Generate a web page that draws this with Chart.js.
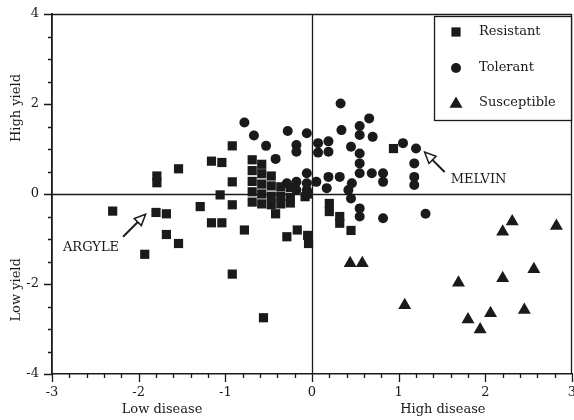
<!DOCTYPE html>
<html><head><meta charset="utf-8">
<script src="https://cdn.jsdelivr.net/npm/chart.js@4/dist/chart.umd.min.js"></script>
<style>html,body{margin:0;padding:0;background:#fff}canvas{display:block}</style>
</head><body>
<canvas id="c" width="574" height="420"></canvas>
<script>
// ---- data ----
const resistantX = [-2.30,-1.80,-1.68,-1.68,-1.54,-1.93,-1.29,-1.16,-1.04,-0.92,-0.78,-0.92,-0.56,-0.42,-0.29,-0.17,
  -1.79,-1.79,-1.54,-1.16,-1.04,-0.92,-0.92,-1.06,
  -0.69,-0.69,-0.69,-0.69,-0.69,-0.58,-0.58,-0.58,-0.58,-0.58,-0.47,-0.47,-0.47,-0.47,-0.36,-0.36,-0.36,-0.25,-0.25,-0.25,
  -0.08,-0.05,-0.04,-0.05,0.20,0.20,0.32,0.32,0.45,0.94];
const resistantY = [-0.38,-0.41,-0.44,-0.90,-1.10,-1.34,-0.28,-0.64,-0.64,-0.24,-0.80,-1.78,-2.75,-0.44,-0.95,-0.80,
  0.40,0.25,0.56,0.73,0.70,1.07,0.27,-0.02,
  0.76,0.52,0.28,0.05,-0.18,0.66,0.45,0.22,0.00,-0.22,0.40,0.18,-0.05,-0.24,0.16,-0.05,-0.22,0.14,-0.08,-0.20,
  -0.06,-0.92,-1.10,0.00,-0.21,-0.39,-0.50,-0.65,-0.81,1.01];
const tolerantX = [-0.78,-0.67,-0.53,-0.42,-0.28,-0.18,-0.18,-0.06,0.07,0.07,0.19,0.19,0.34,0.33,0.45,0.66,0.55,0.55,0.70,
  0.55,0.55,0.55,0.69,0.82,0.82,1.05,1.20,1.18,1.18,1.18,-0.06,-0.18,-0.29,0.05,0.19,0.32,0.46,0.17,-0.06,-0.18,
  0.45,0.55,0.55,0.82,1.31,-0.06,0.42];
const tolerantY = [1.59,1.30,1.07,0.78,1.40,1.09,0.94,1.35,1.13,0.92,1.17,0.94,1.42,2.01,1.05,1.68,1.51,1.31,1.27,
  0.90,0.68,0.46,0.46,0.46,0.27,1.13,1.01,0.68,0.38,0.20,0.46,0.27,0.24,0.27,0.38,0.38,0.24,0.13,0.09,0.09,
  -0.10,-0.32,-0.50,-0.54,-0.44,0.24,0.09];
const susceptibleX = [0.44,0.58,1.07,1.69,1.80,1.94,2.06,2.20,2.20,2.31,2.45,2.56,2.82];
const susceptibleY = [-1.54,-1.54,-2.47,-1.97,-2.79,-3.01,-2.65,-1.87,-0.84,-0.61,-2.58,-1.67,-0.71];
const seriesNames = ['Resistant','Tolerant','Susceptible'];
const xTickLabels = [-3,-2,-1,0,1,2,3];
const yTickLabels = [-4,-2,0,2,4];
const xTitles = [{text:'Low disease', x:-1.73}, {text:'High disease', x:1.51}];
const yTitles = [{text:'High yield', y:1.91}, {text:'Low yield', y:-2.13}];
const notes = [
  {text:'ARGYLE', tx:-2.55, ty:-1.20, align:'center', fromX:-2.18, fromY:-0.95, toX:-1.92, toY:-0.45},
  {text:'MELVIN', tx:1.60, ty:0.33, align:'left', fromX:1.53, fromY:0.49, toX:1.30, toY:0.93}
];

const INK = '#1a1a1a';
const FONT = '13px "DejaVu Serif"';
const pts = (xs, ys) => xs.map((x, i) => ({x, y: ys[i]}));
const near = (v, arr) => arr.some(a => Math.abs(a - v) < 1e-6);

function drawMarker(ctx, style, x, y) {
  ctx.fillStyle = INK;
  ctx.beginPath();
  if (style === 'rect') { ctx.rect(x - 4.6, y - 4.6, 9.2, 9.2); }
  else if (style === 'circle') { ctx.arc(x, y, 5, 0, Math.PI * 2); }
  else { const r = 7.5; ctx.moveTo(x, y - r); ctx.lineTo(x + r * 0.866, y + r * 0.5); ctx.lineTo(x - r * 0.866, y + r * 0.5); ctx.closePath(); }
  ctx.fill();
}

const decor = {
  id: 'decor',
  beforeDatasetsDraw(chart) {
    const {ctx, chartArea: a, scales: {x, y}} = chart;
    ctx.save();
    ctx.strokeStyle = INK; ctx.lineWidth = 1.3;
    ctx.beginPath();
    const x0 = Math.round(x.getPixelForValue(0)) + 0.5, y0 = Math.round(y.getPixelForValue(0)) + 0.5;
    ctx.moveTo(x0, a.top); ctx.lineTo(x0, a.bottom);
    ctx.moveTo(a.left, y0); ctx.lineTo(a.right, y0);
    // top & right frame
    ctx.moveTo(a.left, a.top + 0.5); ctx.lineTo(a.right, a.top + 0.5);
    ctx.moveTo(a.right - 0.5, a.top); ctx.lineTo(a.right - 0.5, a.bottom);
    ctx.stroke();
    ctx.restore();
  },
  afterDraw(chart) {
    const {ctx, chartArea: a, scales: {x, y}} = chart;
    ctx.save();
    ctx.strokeStyle = INK; ctx.lineWidth = 1.3;
    // tick marks
    ctx.beginPath();
    x.ticks.forEach(t => {
      const px = Math.round(x.getPixelForValue(t.value)) + 0.5;
      const len = near(t.value, xTickLabels) ? 8 : 4;
      ctx.moveTo(px, a.bottom); ctx.lineTo(px, a.bottom + len);
    });
    y.ticks.forEach(t => {
      const py = Math.round(y.getPixelForValue(t.value)) + 0.5;
      const len = near(t.value, yTickLabels) ? 8 : 4;
      ctx.moveTo(a.left, py); ctx.lineTo(a.left - len, py);
    });
    ctx.stroke();

    ctx.fillStyle = INK; ctx.font = FONT;
    // x titles
    ctx.textAlign = 'center'; ctx.textBaseline = 'middle';
    xTitles.forEach(t => ctx.fillText(t.text, x.getPixelForValue(t.x), a.bottom + 36));
    // y titles
    yTitles.forEach(t => {
      ctx.save(); ctx.translate(17, y.getPixelForValue(t.y)); ctx.rotate(-Math.PI / 2);
      ctx.fillText(t.text, 0, 0); ctx.restore();
    });

    // annotations with open arrows
    notes.forEach(n => {
      ctx.textAlign = n.align;
      ctx.fillText(n.text, x.getPixelForValue(n.tx), y.getPixelForValue(n.ty));
      const fx = x.getPixelForValue(n.fromX), fy = y.getPixelForValue(n.fromY);
      const tx = x.getPixelForValue(n.toX), ty = y.getPixelForValue(n.toY);
      const ang = Math.atan2(ty - fy, tx - fx);
      const L = 11, W = 5;
      const bx = tx - L * Math.cos(ang), by = ty - L * Math.sin(ang);
      ctx.lineWidth = 2;
      ctx.beginPath(); ctx.moveTo(fx, fy); ctx.lineTo(bx, by); ctx.stroke();
      ctx.lineWidth = 1.5;
      ctx.beginPath();
      ctx.moveTo(tx, ty);
      ctx.lineTo(bx + W * Math.sin(ang), by - W * Math.cos(ang));
      ctx.lineTo(bx - W * Math.sin(ang), by + W * Math.cos(ang));
      ctx.closePath(); ctx.fillStyle = '#fff'; ctx.fill(); ctx.stroke();
      ctx.fillStyle = INK;
    });

    // legend box
    const lx = 434, ly = a.top + 2, lw = a.right - lx, lh = 105;
    ctx.fillStyle = '#fff'; ctx.fillRect(lx, ly, lw, lh);
    ctx.lineWidth = 1.3; ctx.strokeStyle = INK;
    ctx.strokeRect(lx + 0.5, ly + 0.5, lw - 1, lh - 1);
    const styles = ['rect', 'circle', 'triangle'];
    const rowY = [32, 68, 103];
    ctx.textAlign = 'left'; ctx.textBaseline = 'middle'; ctx.font = FONT;
    chart.data.datasets.forEach((ds, i) => {
      drawMarker(ctx, styles[i], 456, rowY[i] + (i === 2 ? 1 : 0));
      ctx.fillStyle = INK;
      ctx.fillText(ds.label, 479, rowY[i]);
    });
    ctx.restore();
  }
};

const common = {backgroundColor: INK, borderColor: INK, borderWidth: 0, pointHoverRadius: 0};
new Chart(document.getElementById('c'), {
  type: 'scatter',
  data: {
    datasets: [
      Object.assign({label: seriesNames[0], data: pts(resistantX, resistantY), pointStyle: 'rect', pointRadius: 6.5}, common),
      Object.assign({label: seriesNames[1], data: pts(tolerantX, tolerantY), pointStyle: 'circle', pointRadius: 5}, common),
      Object.assign({label: seriesNames[2], data: pts(susceptibleX, susceptibleY), pointStyle: 'triangle', pointRadius: 7.5}, common)
    ]
  },
  options: {
    responsive: false, animation: false, devicePixelRatio: 1,
    layout: {autoPadding: false, padding: {top: 14, right: 2, left: 0, bottom: 0}},
    plugins: {legend: {display: false}, tooltip: {enabled: false}},
    scales: {
      x: {
        type: 'linear', min: -3, max: 3,
        afterFit(s) { s.height = 46; s.paddingLeft = 0; s.paddingRight = 0; },
        grid: {display: false, drawTicks: false},
        border: {display: true, color: INK, width: 1.6},
        ticks: {stepSize: 0.2, autoSkip: false, maxRotation: 0, maxTicksLimit: 100, padding: 11,
          color: INK, font: {family: 'DejaVu Serif', size: 13},
          callback: v => near(v, xTickLabels) ? String(Math.round(v)) : ''}
      },
      y: {
        type: 'linear', min: -4, max: 4,
        afterFit(s) { s.width = 52; s.paddingTop = 0; s.paddingBottom = 0; },
        grid: {display: false, drawTicks: false},
        border: {display: true, color: INK, width: 1.8},
        ticks: {stepSize: 0.5, autoSkip: false, maxTicksLimit: 100, padding: 13,
          color: INK, font: {family: 'DejaVu Serif', size: 13},
          callback: v => near(v, yTickLabels) ? String(Math.round(v)) : ''}
      }
    }
  },
  plugins: [decor]
});
</script>
</body></html>
